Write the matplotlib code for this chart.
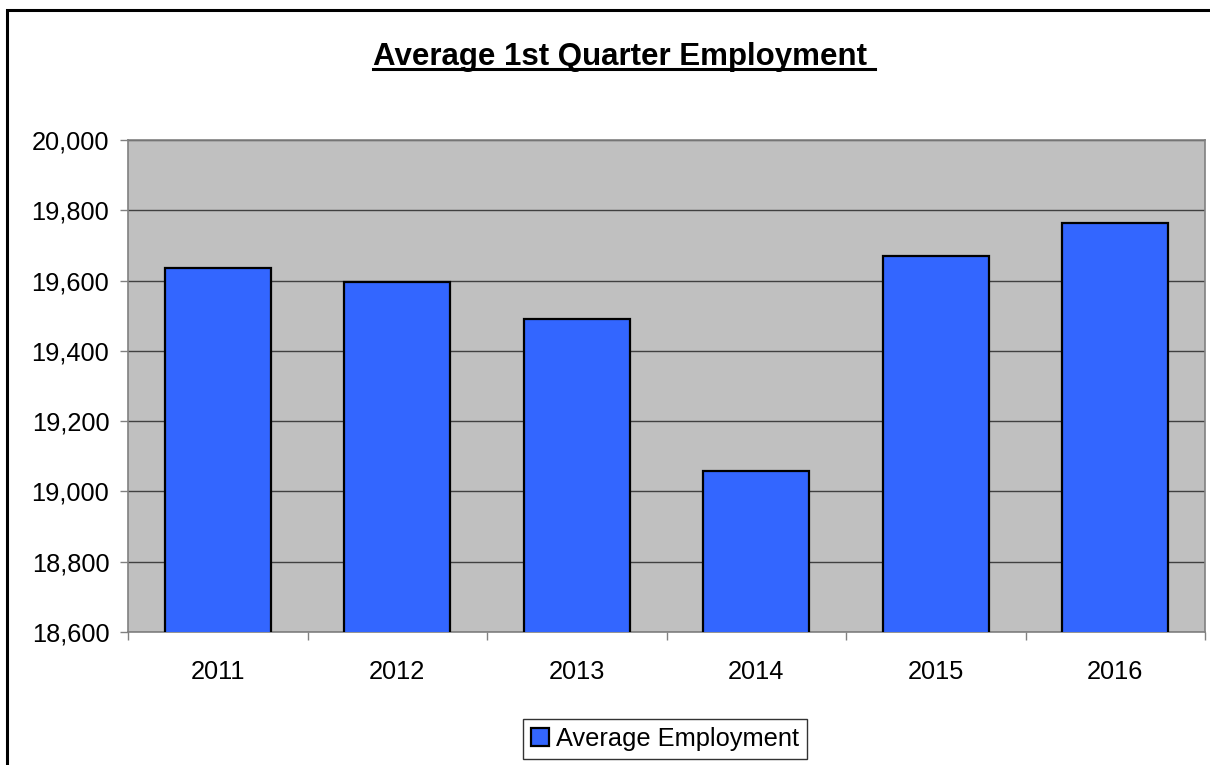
import matplotlib
matplotlib.use('Agg')
import matplotlib.pyplot as plt
import matplotlib.patches as mpatches
import matplotlib.lines as lines
import numpy as np

plt.rcParams['font.family'] = ['Liberation Sans', 'DejaVu Sans']

# data
years = ['2011', '2012', '2013', '2014', '2015', '2016']
avg_employment = [19635, 19596, 19491, 19058, 19669, 19765]
y_ticks = [18600, 18800, 19000, 19200, 19400, 19600, 19800, 20000]

W, H = 1210, 765
fig = plt.figure(figsize=(W / 100, H / 100), dpi=100)
fig.patch.set_facecolor('white')

# chart border (right and bottom are cut off in the original)
fig.add_artist(mpatches.Rectangle((7 / W, -0.2), 1.2, 1 - 10 / H + 0.2,
                                  transform=fig.transFigure, fill=False,
                                  edgecolor='black', linewidth=2.2))

ax = fig.add_axes([128 / W, (H - 632) / H, (1205 - 128) / W, (632 - 140) / H])
ax.set_facecolor('#C0C0C0')

x = np.arange(len(years))
ax.bar(x, avg_employment, width=0.59, color='#3366FF', edgecolor='black',
       linewidth=1.6, zorder=3, label='Average Employment')

ax.set_ylim(18600, 20000)
ax.set_yticks(y_ticks)
ax.set_yticklabels(['{:,}'.format(v) for v in y_ticks], fontsize=18.3)
ax.yaxis.grid(True, color='#404040', linewidth=1.0, zorder=1)
ax.set_axisbelow(True)

ax.set_xlim(-0.5, len(years) - 0.5)
ax.set_xticks(x)
ax.set_xticklabels(years, fontsize=18.3)
ax.set_xticks(np.arange(-0.5, len(years)), minor=True)
ax.tick_params(axis='x', which='major', length=0, pad=20)
ax.tick_params(axis='x', which='minor', length=6, color='#808080', width=1)
ax.tick_params(axis='y', length=6, color='#808080', width=1, pad=7.5)

for s in ax.spines.values():
    s.set_color('#808080')
    s.set_linewidth(1.2)

# underlined bold title
title = fig.text(624 / W, 1 - 64.5 / H, 'Average 1st Quarter Employment ',
                 ha='center', va='baseline', fontsize=22.5, fontweight='bold')
fig.canvas.draw()
bb = title.get_window_extent()
uy = H - 68.5
fig.add_artist(lines.Line2D([bb.x0 / W, bb.x1 / W], [uy / H, uy / H],
                            transform=fig.transFigure, color='black', linewidth=2.2))

leg = fig.legend(loc='center', bbox_to_anchor=(665 / W, (H - 739) / H),
                 fontsize=18.3, frameon=True, fancybox=False, edgecolor='black',
                 handlelength=0.7, handleheight=0.7, handletextpad=0.3,
                 borderpad=0.3, borderaxespad=0)
leg.get_frame().set_linewidth(1.0)

fig.savefig('out.png', dpi=100)
plt.close()
